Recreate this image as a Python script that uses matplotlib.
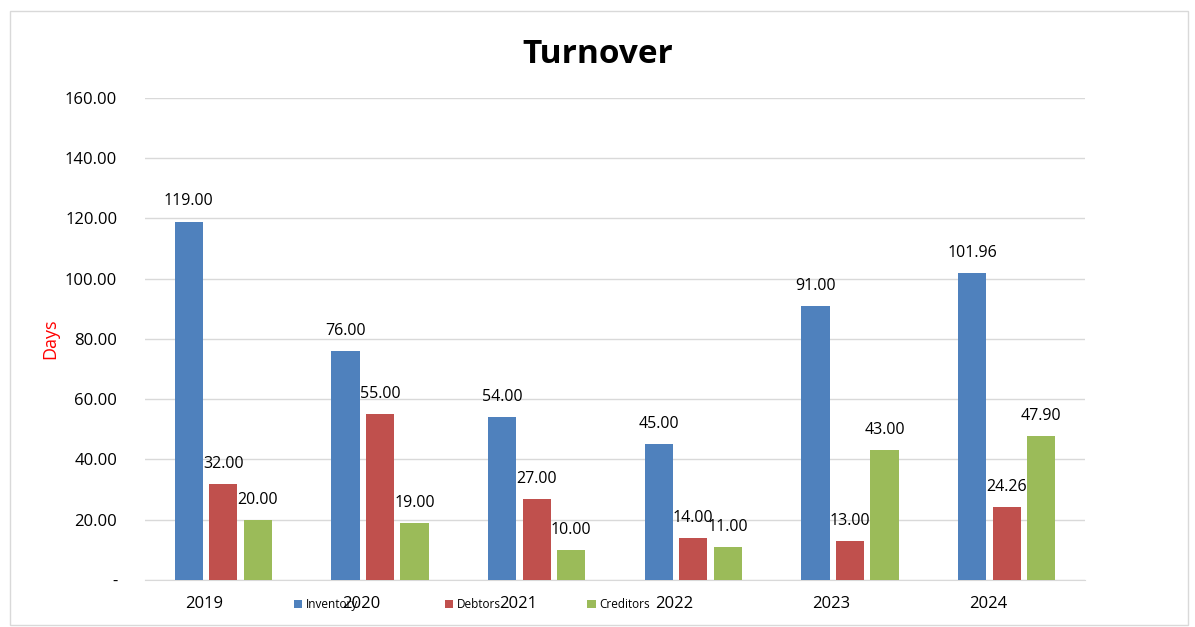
import numpy as np
import matplotlib.pyplot as plt
from matplotlib.patches import Rectangle
from matplotlib.ticker import FuncFormatter

years = ["2019", "2020", "2021", "2022", "2023", "2024"]
inventory = [119.00, 76.00, 54.00, 45.00, 91.00, 101.96]
debtors = [32.00, 55.00, 27.00, 14.00, 13.00, 24.26]
creditors = [20.00, 19.00, 10.00, 11.00, 43.00, 47.90]

series = {"Inventory": inventory, "Debtors": debtors, "Creditors": creditors}
colors = ["#4F81BD", "#C0504D", "#9BBB59"]

plt.rcParams["font.family"] = ["Open Sans", "DejaVu Sans"]

fig = plt.figure(figsize=(11.95, 6.27), dpi=100)
ax = fig.add_axes([0.1213, 0.075, 0.7867, 0.7687])

# light frame round the chart area
fig.patches.append(Rectangle((10 / 1195, 2 / 627), 1178 / 1195, 614 / 627,
                             transform=fig.transFigure, fill=False,
                             edgecolor="#d9d9d9", linewidth=1))

x = np.arange(len(years))
width = 0.18
offsets = [-0.22, 0.0, 0.22]
handles = []
for (label, vals), color, off in zip(series.items(), colors, offsets):
    bars = ax.bar(x + off, vals, width, color=color, label=label, zorder=3)
    handles.append(bars)
    for xi, v in zip(x + off, vals):
        ax.text(xi, v + 4, f"{v:.2f}", ha="center", va="bottom",
                fontsize=11.5, color="black")

ax.set_xlim(-0.5, len(years) - 0.5)
ax.set_ylim(0, 160)
ax.set_yticks(np.arange(0, 161, 20))
ax.yaxis.set_major_formatter(FuncFormatter(lambda v, p: "-" if v == 0 else f"{v:.2f}"))
ax.tick_params(axis="y", length=0, labelsize=12, pad=20)
ax.set_xticks([])
ax.grid(axis="y", color="#d9d9d9", linewidth=1, zorder=0)
for s in ["top", "right", "left"]:
    ax.spines[s].set_visible(False)
ax.spines["bottom"].set_color("#d9d9d9")

# year labels sit a little left of the group centres
for xi, yr in zip(x, years):
    ax.text(xi - 0.12, -8, yr, ha="center", va="center", fontsize=12,
            transform=ax.transData, clip_on=False)

ax.set_ylabel("Days", color="red", fontsize=13, labelpad=4)
fig.suptitle("Turnover", fontsize=24, fontweight="bold", y=0.94)

fig.legend(handles=handles, labels=list(series.keys()), loc="center left",
           bbox_to_anchor=(0.237, 0.036), ncol=3, frameon=False,
           fontsize=8.5, handlelength=0.7, handleheight=0.7,
           handletextpad=0.35, columnspacing=7.3)

plt.savefig("out.png", dpi=100)
